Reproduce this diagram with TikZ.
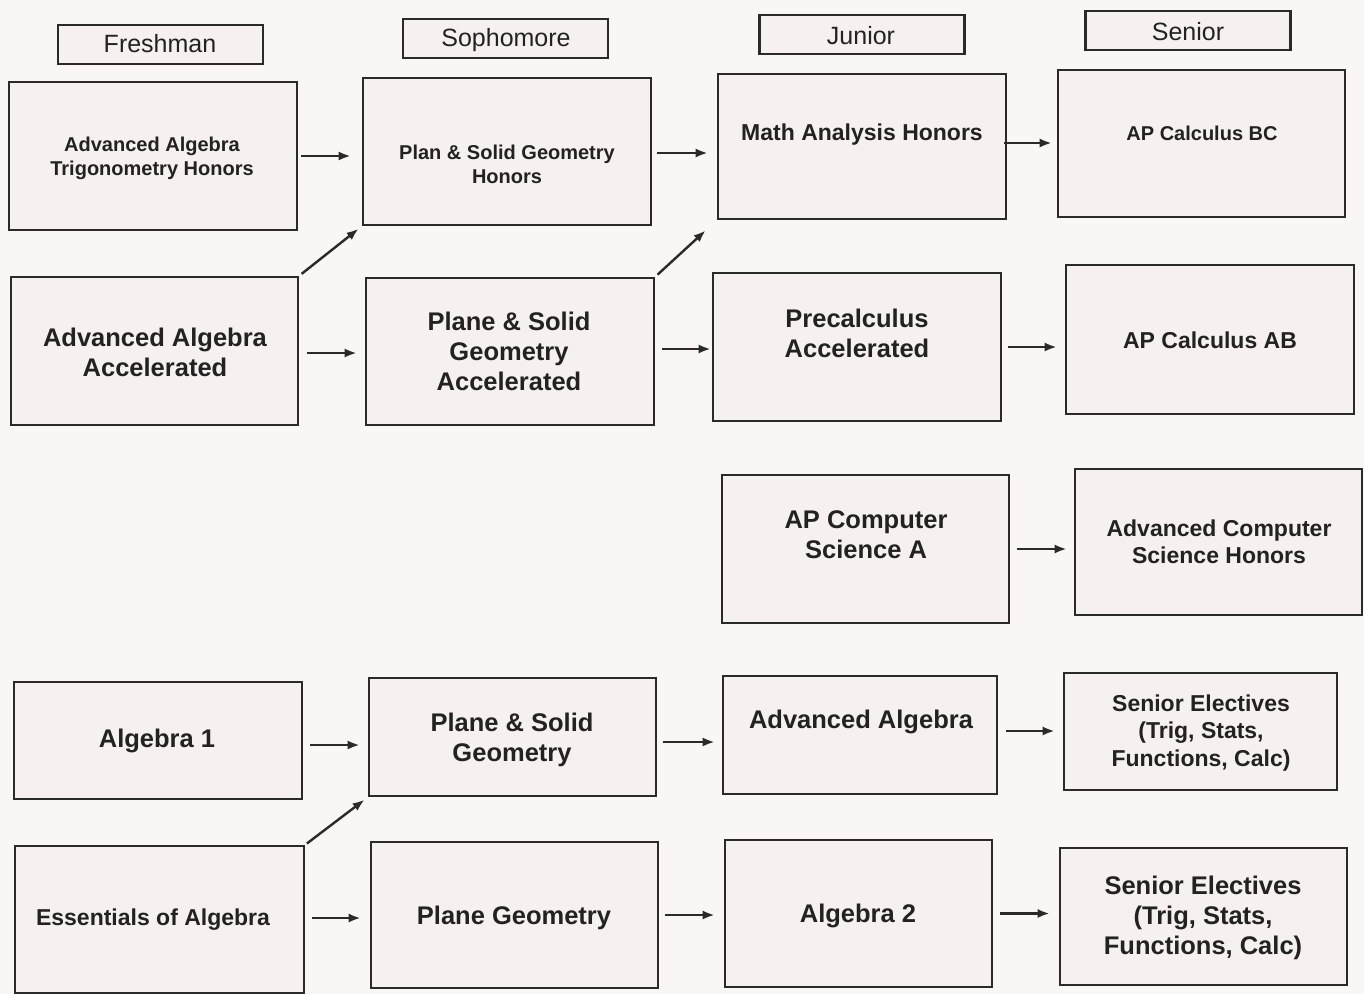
\documentclass[tikz,border=0pt]{standalone}
\usepackage{fontspec}
\setmainfont{Liberation Sans}
\usetikzlibrary{arrows.meta}
\definecolor{bgc}{HTML}{F9F6F4}
\definecolor{boxc}{HTML}{F6F1EE}
\definecolor{linec}{HTML}{2A2A2A}
\definecolor{txtc}{HTML}{222222}
\begin{document}
\begin{tikzpicture}[x=1pt,y=-1pt,
  box/.style={draw=linec, line width=2.6pt, fill=boxc, inner sep=0pt},
  hbox/.style={draw=linec, line width=2.2pt, fill=boxc, inner sep=0pt, minimum width=205pt, minimum height=39pt},
  lbl/.style={align=center, inner sep=0pt, text=txtc},
  hd/.style={lbl, font=\fontsize{25}{30}\selectfont},
  sa/.style={lbl, font=\bfseries\fontsize{20}{24}\selectfont},
  sb/.style={lbl, font=\bfseries\fontsize{23}{27.5}\selectfont},
  sc/.style={lbl, font=\bfseries\fontsize{25.5}{30}\selectfont},
  arr/.style={draw=linec, line width=2.4pt, -{Latex[length=12pt,width=9pt]}}
]
\fill[bgc] (0,0) rectangle (1364,994);
\useasboundingbox (0,0) rectangle (1364,994);

% headers
\node[hbox] (hfr) at (160.5,44.5) {};
\node[hbox] (hso) at (505.5,38.5) {};
\node[hbox] (hju) at (862,34.5) {};
\node[hbox] (hse) at (1188,30.5) {};
\node[hd] (tfr) at (160,44) {Freshman};
\node[hd] (tso) at (506,40) {Sophomore};
\node[hd] (tju) at (861,36) {Junior};
\node[hd] (tse) at (1188,32) {Senior};

% boxes
\node[box, minimum width=288pt, minimum height=148pt] (aat) at (153,156) {};
\node[box, minimum width=288pt, minimum height=147pt] (psgh) at (507,151.5) {};
\node[box, minimum width=288pt, minimum height=145pt] (mah) at (862,146.5) {};
\node[box, minimum width=287pt, minimum height=147pt] (bc) at (1201.5,143.5) {};
\node[box, minimum width=287pt, minimum height=148pt] (aaa) at (154.5,351) {};
\node[box, minimum width=288pt, minimum height=147pt] (psga) at (510,351.5) {};
\node[box, minimum width=288pt, minimum height=148pt] (pca) at (857,347) {};
\node[box, minimum width=288pt, minimum height=149pt] (ab) at (1210,339.5) {};
\node[box, minimum width=287pt, minimum height=148pt] (csa) at (865.5,549) {};
\node[box, minimum width=287pt, minimum height=146pt] (acs) at (1218.5,542) {};
\node[box, minimum width=288pt, minimum height=117pt] (a1) at (158,740.5) {};
\node[box, minimum width=287pt, minimum height=118pt] (psg) at (512.5,737) {};
\node[box, minimum width=274pt, minimum height=118pt] (aa) at (860,735) {};
\node[box, minimum width=273pt, minimum height=117pt] (se1) at (1200.5,731.5) {};
\node[box, minimum width=289pt, minimum height=147pt] (ess) at (159.5,919.5) {};
\node[box, minimum width=287pt, minimum height=146pt] (pg) at (514.5,915) {};
\node[box, minimum width=267pt, minimum height=147pt] (a2) at (858.5,913.5) {};
\node[box, minimum width=287pt, minimum height=137pt] (se2) at (1203.5,916.5) {};

% texts
\node[sa] (taat) at (152,158) {Advanced Algebra\\Trigonometry Honors};
\node[sa] (tpsgh) at (507,164) {Plan \& Solid Geometry\\Honors};
\node[sb] (tmah) at (862,135) {Math Analysis Honors};
\node[sa] (tbc) at (1202,133) {AP Calculus BC};
\node[sc] (taaa) at (155,352) {Advanced Algebra\\Accelerated};
\node[sc] (tpsga) at (509,351) {Plane \& Solid\\Geometry\\Accelerated};
\node[sc] (tpca) at (857,333) {Precalculus\\Accelerated};
\node[sb] (tab) at (1210,340) {AP Calculus AB};
\node[sc] (tcsa) at (866,535) {AP Computer\\Science A};
\node[sb] (tacs) at (1219,542) {Advanced Computer\\Science Honors};
\node[sc] (ta1) at (157,741) {Algebra 1};
\node[sc] (tpsg) at (512,740) {Plane \& Solid\\Geometry};
\node[sc] (taa) at (861,722) {Advanced Algebra};
\node[sb] (tse1) at (1201,733) {Senior Electives\\(Trig, Stats,\\Functions, Calc)};
\node[sb] (tess) at (153,920) {Essentials of Algebra};
\node[sc] (tpg) at (514,918) {Plane Geometry};
\node[sc] (ta2) at (858,916) {Algebra 2};
\node[sc] (tse2) at (1203,918) {Senior Electives\\(Trig, Stats,\\Functions, Calc)};

% horizontal arrows
\draw[arr, shorten <=3pt, shorten >=11pt] (aat.east) -- (aat.east -| psgh.west);
\draw[arr, shorten <=5pt, shorten >=9pt] ([yshift=-1.5pt]psgh.east) -- ([yshift=-1.5pt]psgh.east -| mah.west);
\draw[arr, shorten <=-3pt, shorten >=5pt] ([yshift=3.5pt]mah.east) -- ([yshift=3.5pt]mah.east -| bc.west);
\draw[arr, shorten <=8pt, shorten >=8pt] ([yshift=-2pt]aaa.east) -- ([yshift=-2pt]aaa.east -| psga.west);
\draw[arr, shorten <=7pt, shorten >=1pt] ([yshift=2.5pt]psga.east) -- ([yshift=2.5pt]psga.east -| pca.west);
\draw[arr, shorten <=6pt, shorten >=8pt] (pca.east) -- (pca.east -| ab.west);
\draw[arr, shorten <=7pt, shorten >=7pt] (csa.east) -- (csa.east -| acs.west);
\draw[arr, shorten <=7pt, shorten >=8pt] ([yshift=-4.5pt]a1.east) -- ([yshift=-4.5pt]a1.east -| psg.west);
\draw[arr, shorten <=6pt, shorten >=7pt] ([yshift=-5pt]psg.east) -- ([yshift=-5pt]psg.east -| aa.west);
\draw[arr, shorten <=8pt, shorten >=8pt] ([yshift=4pt]aa.east) -- ([yshift=4pt]aa.east -| se1.west);
\draw[arr, shorten <=7pt, shorten >=9pt] ([yshift=1.5pt]ess.east) -- ([yshift=1.5pt]ess.east -| pg.west);
\draw[arr, shorten <=6pt, shorten >=9pt] (pg.east) -- (pg.east -| a2.west);
\draw[arr, shorten <=7pt, shorten >=9pt] (a2.east) -- (a2.east -| se2.west);

% diagonal arrows
\draw[arr, shorten <=3pt, shorten >=4pt] (aaa.north east) -- (psgh.south west);
\draw[arr, shorten <=3pt, shorten >=15pt] (psga.north east) -- (mah.south west);
\draw[arr, shorten <=2pt, shorten >=4pt] (ess.north east) -- (psg.south west);
\end{tikzpicture}
\end{document}
